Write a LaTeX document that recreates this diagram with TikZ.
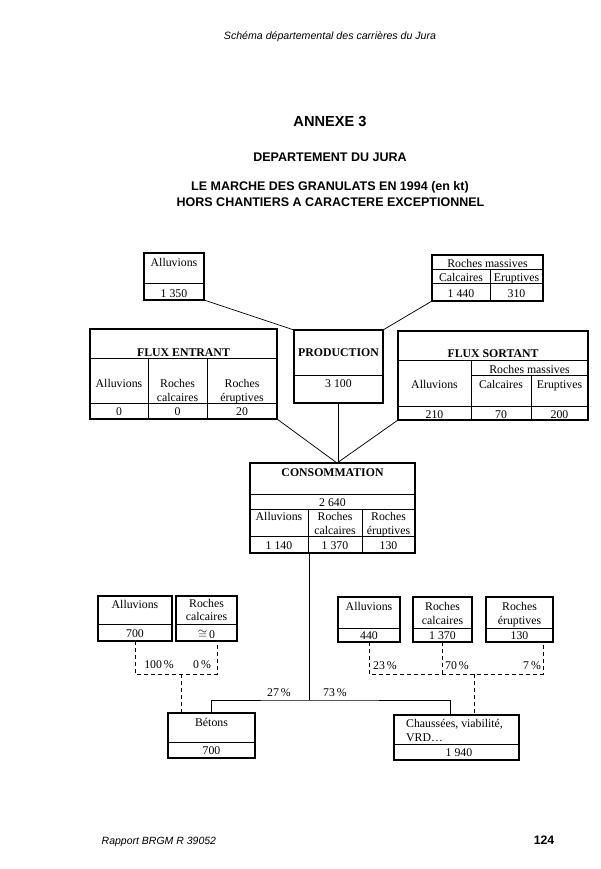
\documentclass[tikz,border=0pt]{standalone}
\usepackage{fontspec}
\setmainfont{Liberation Serif}
\newfontfamily\hsans{Liberation Sans}
\tikzset{
  frame/.style={draw, line width=1.1pt, inner sep=0pt, outer sep=0pt},
  inner/.style={line width=0.6pt},
  txt/.style={inner sep=0pt, anchor=base, font=\fontsize{11.8}{14}\selectfont},
  btxt/.style={txt, font=\fontsize{11.8}{14}\selectfont\bfseries},
  conn/.style={line width=0.75pt},
  dsh/.style={line width=0.75pt, dash pattern=on 4pt off 3pt},
  htxt/.style={inner sep=0pt, anchor=base},
  hbold/.style={htxt, font=\hsans\bfseries\fontsize{12.5}{14}\selectfont},
}
\newcommand{\boxn}[5]{\node[frame, minimum width={(#4-#2)*1pt}, minimum height={(#5-#3)*1pt}] (#1) at ({(#2+#4)/2},{(#3+#5)/2}) {};}
\newcommand{\tx}[4]{\node[txt] (#1) at (#2,#3) {#4};}
\newcommand{\btx}[4]{\node[btxt] (#1) at (#2,#3) {#4};}
\begin{document}
\begin{tikzpicture}[x=1pt,y=-1pt]
\useasboundingbox (0,0) rectangle (600,869);
\fill[white] (0,0) rectangle (600,869);
% header
\node[htxt, font=\hsans\itshape\fontsize{10.6}{12}\selectfont] (hdr) at (330,40) {Schéma départemental des carrières du Jura};
\node[htxt, font=\hsans\bfseries\fontsize{14.6}{16}\selectfont] (ann) at (330,127) {ANNEXE 3};
\node[hbold] (dep) at (330,161) {DEPARTEMENT DU JURA};
\node[hbold] (tit1) at (330,190.5) {LE MARCHE DES GRANULATS EN 1994 (en kt)};
\node[hbold] (tit2) at (330.5,206) {HORS CHANTIERS A CARACTERE EXCEPTIONNEL};
% footer
\node[htxt, anchor=base west, font=\hsans\itshape\fontsize{10.5}{12}\selectfont] (foot) at (101.5,844) {Rapport BRGM R 39052};
\node[htxt, anchor=base east, font=\hsans\bfseries\fontsize{12.3}{14}\selectfont] (page) at (554.5,844.5) {124};

% ---- top alluvions
\boxn{A1}{144}{253}{204}{300}
\draw[inner] (144,283) -- (204,283);
\tx{A1a}{174}{266}{Alluvions}
\tx{A1b}{174}{297}{1 350}
% ---- top roches massives
\boxn{RM}{432}{255}{543}{301}
\draw[inner] (432,269) -- (543,269) (432,283) -- (543,283) (490,269) -- (490,301);
\tx{RMa}{487.5}{267}{Roches massives}
\tx{RMb}{461}{281.5}{Calcaires}
\tx{RMc}{516.5}{281.5}{Eruptives}
\tx{RMd}{461}{297}{1 440}
\tx{RMe}{516.5}{297}{310}
% ---- flux entrant
\boxn{FE}{90}{329}{277}{419}
\draw[inner] (90,358) -- (277,358) (90,403) -- (277,403) (148,358) -- (148,419) (207,358) -- (207,419);
\btx{FEa}{183.5}{356}{FLUX ENTRANT}
\tx{FEb}{119}{387}{Alluvions}
\tx{FEc1}{177.5}{387}{Roches}
\tx{FEc2}{177.5}{401}{calcaires}
\tx{FEd1}{242}{387}{Roches}
\tx{FEd2}{242}{401}{éruptives}
\tx{FEv1}{119}{415}{0}
\tx{FEv2}{177.5}{415}{0}
\tx{FEv3}{242}{415}{20}
% ---- production
\boxn{P}{294}{330}{383}{403}
\draw[inner] (294,375) -- (383,375);
\btx{Pa}{338.5}{356}{PRODUCTION}
\tx{Pb}{338.5}{387}{3 100}
% ---- flux sortant
\boxn{FS}{398}{331}{588}{420}
\draw[inner] (398,360) -- (588,360) (471,375) -- (588,375) (398,406) -- (588,406) (471,360) -- (471,420) (531,375) -- (531,420);
\btx{FSa}{493}{357}{FLUX SORTANT}
\tx{FSb}{529.5}{373}{Roches massives}
\tx{FSc}{434.5}{388}{Alluvions}
\tx{FSd}{501}{388}{Calcaires}
\tx{FSe}{559.5}{388}{Eruptives}
\tx{FSv1}{434.5}{418}{210}
\tx{FSv2}{501}{418}{70}
\tx{FSv3}{559.5}{418}{200}
% ---- consommation
\boxn{C}{250}{463}{415}{553}
\draw[inner] (250,494) -- (415,494) (250,509) -- (415,509) (250,536) -- (415,536) (308,509) -- (308,553) (362,509) -- (362,553);
\btx{Ca}{332.5}{476}{CONSOMMATION}
\tx{Cb}{332.5}{506}{2 640}
\tx{Cc}{279}{520}{Alluvions}
\tx{Cd1}{335}{520}{Roches}
\tx{Cd2}{335}{534}{calcaires}
\tx{Ce1}{388.5}{520}{Roches}
\tx{Ce2}{388.5}{534}{éruptives}
\tx{Cv1}{279}{549}{1 140}
\tx{Cv2}{335}{549}{1 370}
\tx{Cv3}{388.5}{549}{130}
% ---- top connectors
\draw[conn] (A1.south east) -- (P.north west);
\draw[conn] (RM.south west) -- (P.north east);
\coordinate (ctop) at (337,463);
\draw[conn] (FE.south east) -- (ctop);
\draw[conn] (FS.south west) -- (ctop);
\draw[conn] (P.south) -- (P.south |- ctop);

% ---- bottom left
\boxn{BA}{98}{596}{172}{641}
\draw[inner] (98,624) -- (172,624);
\tx{BAa}{135}{608}{Alluvions}
\tx{BAb}{135}{637}{700}
\boxn{BRC}{176}{596}{237}{641}
\draw[inner] (176,624) -- (237,624);
\tx{BRCa}{206.5}{607.5}{Roches}
\tx{BRCb}{206.5}{620.5}{calcaires}
\node[txt, text height=5pt, text depth=0pt] (BRCc) at (206.5,638) {$\cong$\,0};
\boxn{Bet}{168}{713}{255}{758}
\draw[inner] (168,742) -- (255,742);
\tx{Beta}{211.5}{726}{Bétons}
\tx{Betb}{211.5}{754}{700}
% ---- bottom right
\boxn{RA}{338}{597}{400}{642}
\draw[inner] (338,628) -- (400,628);
\tx{RAa}{369}{610}{Alluvions}
\tx{RAb}{369}{639}{440}
\boxn{RC}{413}{597}{472}{642}
\draw[inner] (413,628) -- (472,628);
\tx{RCa}{442.5}{610}{Roches}
\tx{RCb}{442.5}{624}{calcaires}
\tx{RCc}{442.5}{639}{1 370}
\boxn{RE}{486}{597}{553}{642}
\draw[inner] (486,628) -- (553,628);
\tx{REa}{519.5}{610}{Roches}
\tx{REb}{519.5}{624}{éruptives}
\tx{REc}{519.5}{639}{130}
\boxn{Ch}{394}{715}{519}{760}
\draw[inner] (394,744) -- (519,744);
\node[txt, anchor=base west] (Cha) at (406,727) {Chaussées, viabilité,};
\node[txt, anchor=base west] (Chb) at (406,741) {VRD\dots};
\tx{Chc}{459}{756}{1 940}

% ---- solid distribution
\coordinate (cj) at (309,700);
\draw[conn] (C.south -| cj) -- (cj);
\draw[conn] (Bet.north) |- (cj) -| ([xshift=-6.5pt]Ch.north);
\tx{p27}{279}{696}{27\,\%}
\tx{p73}{335}{696}{73\,\%}

% ---- dashed left
\coordinate (jL) at (181,674);
\draw[dsh] (BA.south) -- ++(0,33) -| ([xshift=10.5pt]BRC.south);
\draw[dsh] (jL) -- (Bet.north -| jL);
\tx{p100}{159}{668}{100\,\%}
\tx{p0}{202}{668}{0\,\%}
% ---- dashed right
\coordinate (jR) at (474,674);
\draw[dsh] (RA.south) -- ++(0,32) -| ([xshift=23.5pt]RE.south);
\draw[dsh] (RC.south) -- (RC.south |- jR);
\draw[dsh] (jR) -- (Ch.north -| jR);
\tx{p23}{385}{669}{23\,\%}
\tx{p70}{457}{669}{70\,\%}
\tx{p7}{532}{669}{7\,\%}
\end{tikzpicture}
\end{document}
